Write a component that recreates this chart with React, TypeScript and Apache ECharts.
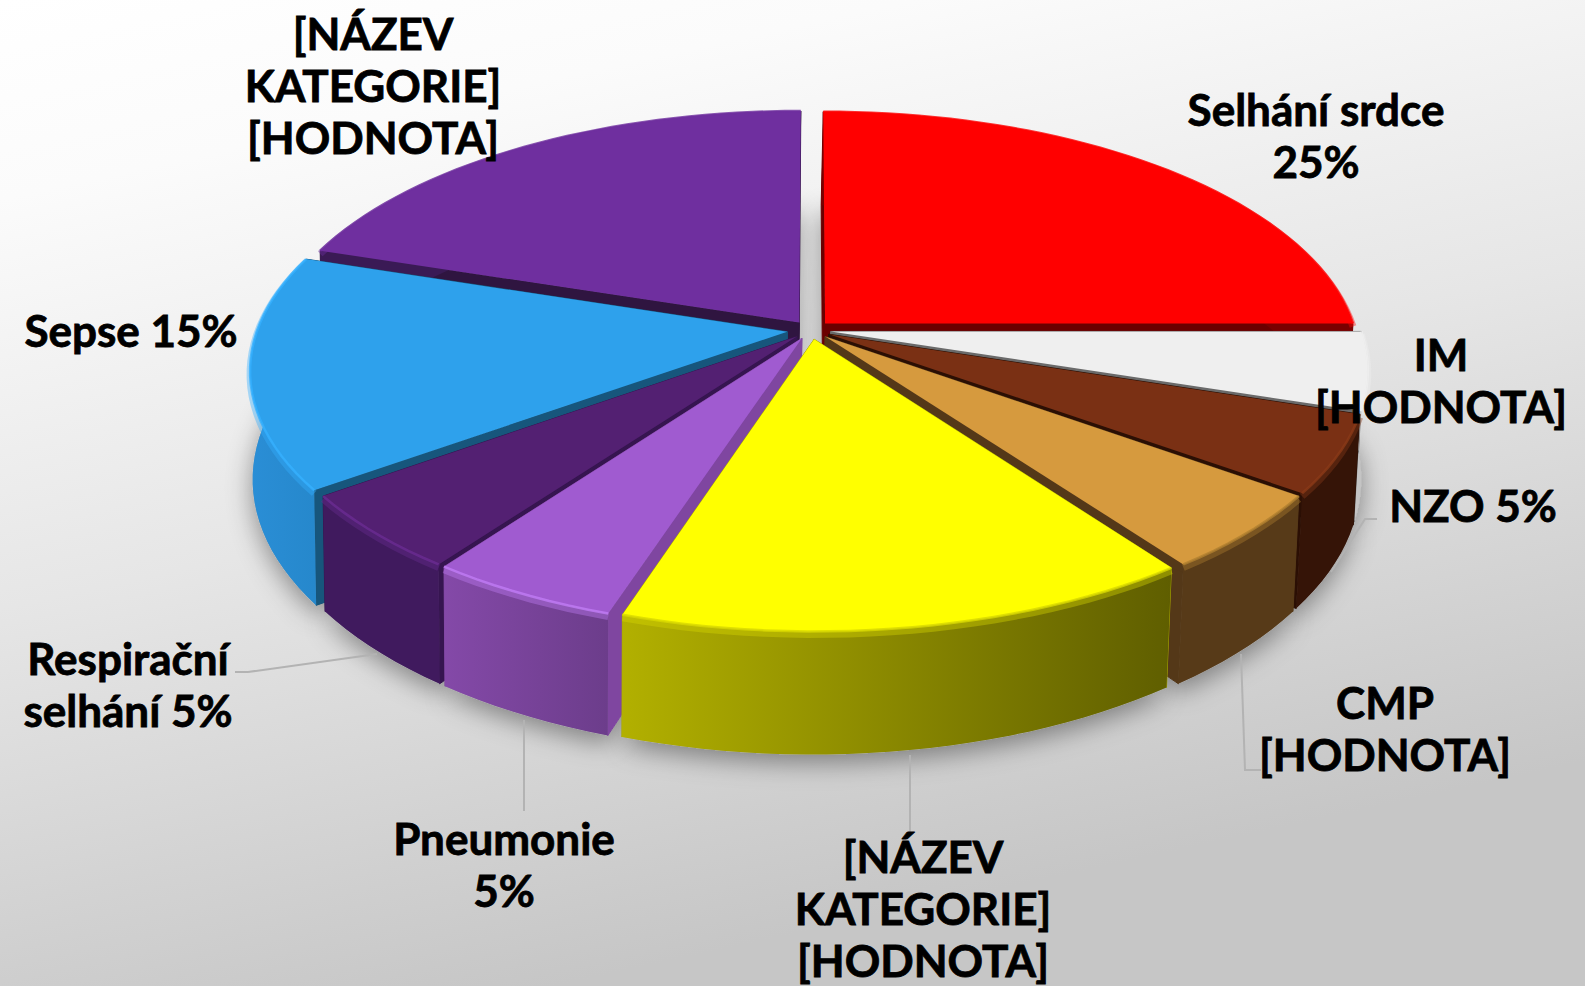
import React, { useEffect, useRef } from "react";
import * as echarts from "echarts";

const categories = ["Selhání srdce", "IM", "NZO", "CMP", "Žlutá", "Pneumonie", "Respirační selhání", "Sepse", "Fialová"];
const values = [25, 5, 5, 5, 15, 5, 5, 15, 20];
const labelTexts = [
  "Selhání srdce\n25%",
  "IM\n[HODNOTA]",
  "NZO 5%",
  "CMP\n[HODNOTA]",
  "[NÁZEV\nKATEGORIE]\n[HODNOTA]",
  "Pneumonie\n5%",
  "Respirační\nselhání 5%",
  "Sepse 15%",
  "[NÁZEV\nKATEGORIE]\n[HODNOTA]",
];
const labelCenters = [
  [1316, 135], [1441, 380], [1473, 505], [1385, 728], [923, 908], [504, 864], [128, 684], [131, 330], [373, 85],
];
const leaders: number[][][] = [
  [], [],
  [[1377, 519], [1365, 519], [1331, 572]],
  [[1241, 654], [1245, 770], [1261, 770]],
  [[910, 755], [910, 834]],
  [[524, 720], [524, 811]],
  [[235, 672], [248, 672], [377, 654]],
  [], [],
];

const topColors = ["#ff0000", "#efefef", "#7a3014", "#d69a3e", "#ffff00", "#a05bd0", "#532072", "#2ea1ec", "#6f2f9f"];
const cutColors = ["#6b0000", "#6a6a6a", "#2b0f04", "#543818", "#a8a600", "#7f46a0", "#361550", "#17567c", "#2f1540"];
const wallLeft = ["#7a0000", "#c4c4c4", "#351407", "#573a18", "#b2b000", "#8449a8", "#401a5e", "#2a8ed6", "#3a1a55"];
const wallRight = ["#7a0000", "#787878", "#351407", "#573a18", "#5f5e00", "#6c3d8b", "#401a5e", "#2688cc", "#3a1a55"];
const rimColors = ["#ff0000", "#efefef", "#8a3a18", "#b08030", "#d8d800", "#c07cf5", "#6a2c92", "#35b0ff", "#6f2f9f"];
const explodes = [20, 20, 20, 20, 20, 20, 20, 24, 20];

const CX = 811;
const CY = 330;
const RADIUS = 530;
const SQUASH = 0.463;
const PERSP = 0.15;
const DEPTH = 106;
const SHRINK = 0.008;
const BOTTOM_SHIFT = -2;
const FONT = "Lato";

const total = values.reduce((a, b) => a + b, 0);
const starts: number[] = [];
values.reduce((acc, v, i) => {
  starts[i] = acc;
  return acc + v;
}, 0);
const toRad = (share: number) => (share / total) * Math.PI * 2;
const drawOrder = values
  .map((_, i) => i)
  .sort((a, b) => Math.cos(toRad(starts[b] + values[b] / 2)) - Math.cos(toRad(starts[a] + values[a] / 2)));

function project(u: number, v: number, down: boolean): number[] {
  const s = 1 / (1 + PERSP * v);
  const f = down ? 1 - SHRINK : 1;
  return [CX + (down ? BOTTOM_SHIFT : 0) + RADIUS * u * s * f, CY - RADIUS * SQUASH * v * s * f + (down ? DEPTH * s : 0)];
}

function renderItem(params: any, api: any) {
  const idx = api.value(1) as number;
  const order = params.dataIndex as number;
  const a0 = toRad(starts[idx]);
  const a1 = toRad(starts[idx] + api.value(0));
  const mid = (a0 + a1) / 2;
  const ex = (explodes[idx] / RADIUS) * Math.sin(mid);
  const ey = (explodes[idx] / RADIUS) * Math.cos(mid);
  const n = Math.max(6, Math.ceil((a1 - a0) / (Math.PI / 90)));
  const arcTop: number[][] = [];
  const arcBot: number[][] = [];
  for (let i = 0; i <= n; i++) {
    const a = a0 + ((a1 - a0) * i) / n;
    arcTop.push(project(Math.sin(a) + ex, Math.cos(a) + ey, false));
    arcBot.push(project(Math.sin(a) + ex, Math.cos(a) + ey, true));
  }
  const apexTop = project(ex, ey, false);
  const apexBot = project(ex, ey, true);
  const z = 10 + order * 10;
  const xs = arcTop.map((p) => p[0]);
  const wallFill = new echarts.graphic.LinearGradient(
    Math.min(...xs), 0, Math.max(...xs), 0,
    [{ offset: 0, color: wallLeft[idx] }, { offset: 1, color: wallRight[idx] }],
    true
  );
  const softRim = arcTop.map((p) => [p[0], p[1] + 3]);
  const children: any[] = [
    {
      type: "polygon",
      z2: 0,
      shape: { points: [apexBot, ...arcBot] },
      style: { fill: "#aaaaaa", shadowColor: "rgba(0,0,0,0.4)", shadowBlur: 26, shadowOffsetY: 8 },
    },
    {
      type: "polygon",
      z2: z,
      shape: { points: [apexTop, arcTop[n], arcBot[n], apexBot] },
      style: { fill: cutColors[idx], stroke: cutColors[idx], lineWidth: 1 },
    },
    {
      type: "polygon",
      z2: z + 1,
      shape: { points: [apexTop, arcTop[0], arcBot[0], apexBot] },
      style: { fill: cutColors[idx], stroke: cutColors[idx], lineWidth: 1 },
    },
    {
      type: "polygon",
      z2: z + 2,
      shape: { points: [...arcTop, ...arcBot.slice().reverse()] },
      style: { fill: wallFill },
    },
    {
      type: "polyline",
      z2: z + 3,
      shape: { points: softRim },
      style: { fill: "none", stroke: rimColors[idx], lineWidth: 7, opacity: 0.4 },
    },
    {
      type: "polygon",
      z2: z + 4,
      shape: { points: [apexTop, ...arcTop] },
      style: { fill: topColors[idx] },
    },
    {
      type: "polyline",
      z2: z + 5,
      shape: { points: arcTop },
      style: { fill: "none", stroke: rimColors[idx], lineWidth: 2.5, opacity: 0.8 },
    },
    {
      type: "text",
      z2: 1000,
      x: labelCenters[idx][0],
      y: labelCenters[idx][1],
      style: {
        text: labelTexts[idx],
        fontFamily: FONT,
        fontWeight: "bold",
        fontSize: 44,
        lineHeight: 52,
        fill: "#000000",
        stroke: "#000000",
        lineWidth: 0.8,
        align: "center",
        verticalAlign: "middle",
      },
    },
  ];
  if (leaders[idx].length) {
    children.push({
      type: "polyline",
      z2: 900,
      shape: { points: leaders[idx] },
      style: { fill: "none", stroke: "#b3b3b3", lineWidth: 2 },
    });
  }
  return { type: "group", children };
}

export default function App() {
  const ref = useRef<HTMLDivElement>(null);
  useEffect(() => {
    const chart = echarts.init(ref.current!, null, { renderer: "svg" });
    chart.setOption({
      animation: false,
      backgroundColor: {
        type: "linear",
        x: 0,
        y: 0,
        x2: 0.35,
        y2: 1,
        colorStops: [
          { offset: 0, color: "#ffffff" },
          { offset: 0.18, color: "#fbfbfb" },
          { offset: 0.55, color: "#e6e6e6" },
          { offset: 1, color: "#c6c6c6" },
        ],
      },
      series: [
        {
          type: "custom",
          coordinateSystem: "none",
          silent: true,
          clip: false,
          renderItem,
          data: drawOrder.map((i) => ({ name: categories[i], value: [values[i], i] })),
        },
      ],
    });
    return () => chart.dispose();
  }, []);
  return <div ref={ref} style={{ position: "fixed", left: 0, top: 0, width: 1585, height: 986 }} />;
}
